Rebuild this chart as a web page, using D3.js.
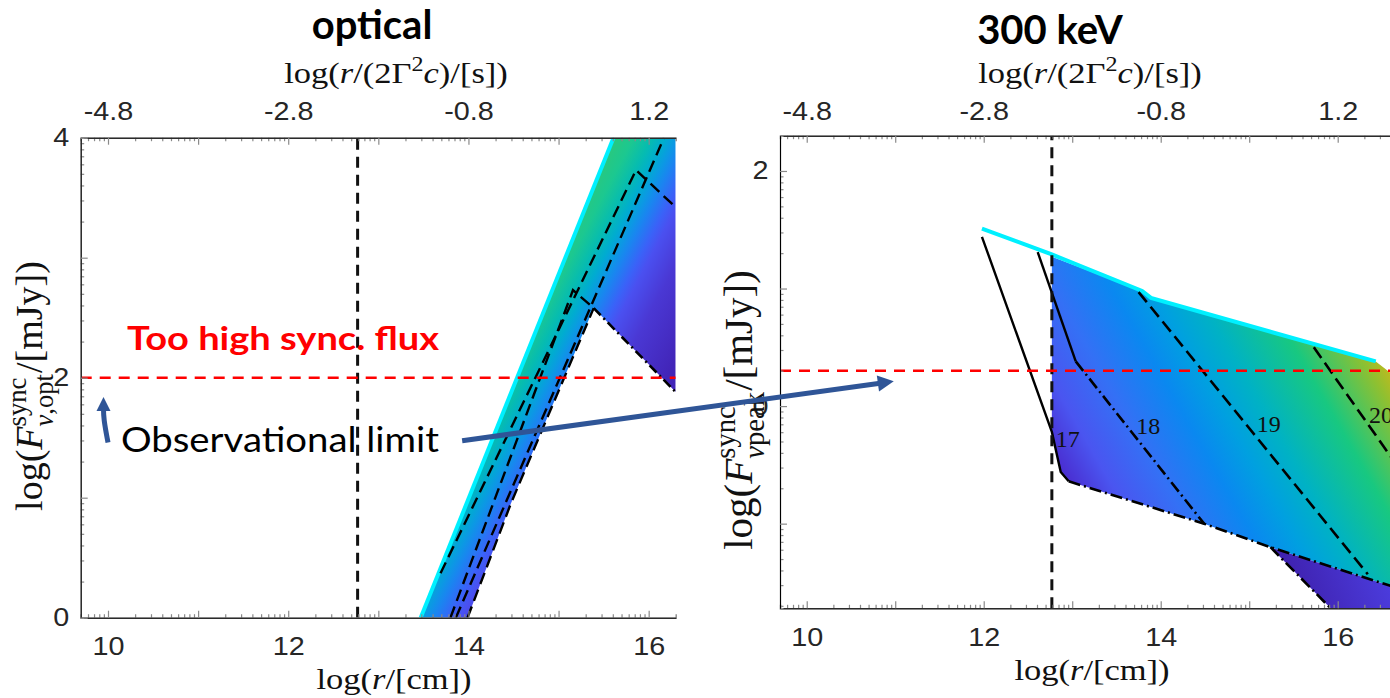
<!DOCTYPE html>
<html>
<head>
<meta charset="utf-8">
<script src="https://cdn.jsdelivr.net/npm/d3@7"></script>
<style>
  body { margin: 0; background: #fff; }
  svg { display: block; }
</style>
</head>
<body>
<svg id="fig" width="1390" height="698"></svg>
<script>
/* global d3 */

// ---- data (log r [cm], log F [mJy]) ----
const xTickVals = [10, 12, 14, 16]
const xTopLabels = ['-4.8', '-2.8', '-0.8', '1.2']
const optYTicks = [0, 2, 4]
const pkYTicks = [0, 2]

const rDashed = 12.77 // vertical dashed line, both panels
const optLimit = 2.0
const pkLimit = 0.3

// optical panel
const optRegion = [[13.47, 0], [15.61, 4], [16.3, 4], [16.3, 1.88], [15.39, 2.58], [14.47, 0.95], [13.99, 0]]
const optCyan = [[13.47, 0], [15.61, 4]]
const optDashed = [
  [[13.69, 0.37], [15.86, 3.73], [16.3, 3.42]],
  [[13.8, 0], [15.16, 2.73], [15.39, 2.58]],
  [[13.86, 0], [16.17, 4]],
  [[13.99, 0], [14.47, 0.95], [15.39, 2.58]]
]
const optDashDot = [[15.39, 2.58], [16.3, 1.88]]

// 300 keV panel
const pkCyan = [[11.98, 1.51], [12.77, 1.29], [13.79, 0.98], [13.89, 0.92], [16.43, 0.38]]
const pkRegion = [[12.77, 1.27], [13.79, 0.98], [13.89, 0.92], [16.43, 0.38], [16.6, 0.28],
  [16.6, -1.53], [15.24, -1.2], [14.49, -1.0], [12.96, -0.64], [12.87, -0.56], [12.77, -0.22]]
const pkLower = [[15.24, -1.2], [15.92, -1.72], [16.8, -1.72], [16.8, -1.6], [16.6, -1.53]]
const pkSolid = [
  [[11.98, 1.44], [12.77, -0.22], [12.87, -0.56], [12.96, -0.64]],
  [[12.61, 1.31], [13.04, 0.38]]
]
const pkDashDot = [
  [[13.04, 0.38], [14.49, -1.0]],
  [[12.96, -0.64], [14.49, -1.0], [15.24, -1.2], [16.6, -1.53]],
  [[15.24, -1.2], [15.92, -1.72]]
]
const pkDashed = [
  [[13.75, 0.97], [16.34, -1.43]],
  [[15.73, 0.5], [16.6, -0.43]]
]
const contourLabels = ['17', '18', '19', '20']
const contourAt = [[12.95, -0.28], [13.86, -0.17], [15.22, -0.145], [16.49, -0.07]]

// annotation arrows, in optical-panel coordinates
const obsArrow = [[13.93, 1.475], [18.72, 1.97]]
const smallArrow = [[10.0, 1.46], [9.95, 1.66], [9.95, 1.84]]

// ---- styles ----
const serif = '"Liberation Serif", "DejaVu Serif", serif'
const sans = '"Liberation Sans", Arial, sans-serif'
const office = 'Lato, "Open Sans", sans-serif'
const axisColor = '#8a8a8a'
const arrowBlue = '#2f5597'
const stretch = 1.15 // the figure is wider than tall in the source

const optStops = [[0, '#2cc87a'], [0.12, '#1cc890'], [0.22, '#06bcb0'], [0.3, '#00acd0'],
  [0.36, '#0c98e4'], [0.41, '#1a85f0'], [0.5, '#3a62f8'], [0.56, '#4a50f0'], [0.72, '#4a38d4'], [1, '#4225b8']]
const pkStops = [[0, '#4525c0'], [0.06, '#4a32d4'], [0.15, '#4a55f0'], [0.28, '#3470f5'],
  [0.42, '#0a88f0'], [0.52, '#00a0e0'], [0.62, '#00b2c4'], [0.78, '#18c880'],
  [0.93, '#90c030'], [1, '#d0b818']]

const svg = d3.select('#fig')
const defs = svg.append('defs')

function gradient (id, stops, p0, p1) {
  const g = defs.append('linearGradient').attr('id', id)
    .attr('gradientUnits', 'userSpaceOnUse')
    .attr('x1', p0[0]).attr('y1', p0[1]).attr('x2', p1[0]).attr('y2', p1[1])
  g.selectAll('stop').data(stops).enter().append('stop')
    .attr('offset', d => d[0]).attr('stop-color', d => d[1])
}

function setupPanel (id, xDom, xRange, yDom, yRange) {
  const x = d3.scaleLinear().domain(xDom).range(xRange)
  const y = d3.scaleLinear().domain(yDom).range(yRange)
  defs.append('clipPath').attr('id', id + '-clip').append('rect')
    .attr('x', xRange[0]).attr('y', yRange[1])
    .attr('width', xRange[1] - xRange[0]).attr('height', yRange[0] - yRange[1])
  const g = svg.append('g')
  const plot = g.append('g').attr('clip-path', `url(#${id}-clip)`)
  const line = d3.line().x(d => x(d[0])).y(d => y(d[1]))
  return { x, y, g, plot, line }
}

// log-style minor ticks repeating every unit
function minorTicks (dom) {
  const out = []
  for (let n = Math.floor(dom[0]); n <= Math.ceil(dom[1]); n++) {
    for (let k = 2; k <= 9; k++) {
      const v = n + Math.log10(k)
      if (v > dom[0] && v < dom[1]) out.push(v)
    }
  }
  return out
}
function unitTicks (dom) {
  return d3.range(Math.ceil(dom[0]), Math.floor(dom[1]) + 1)
}

function styleAxis (sel) {
  sel.select('.domain').attr('stroke', axisColor).attr('stroke-width', 1.4)
  sel.selectAll('.tick line').attr('stroke', axisColor).attr('stroke-width', 1.2)
  sel.selectAll('.tick text').attr('fill', '#262626')
    .attr('font-family', sans).attr('font-size', 25)
    .attr('transform', `scale(${stretch},1)`)
}

function drawAxes (p, yTicks, topPad) {
  const xd = p.x.domain()
  const yd = p.y.domain()
  const [x0] = p.x.range()
  const [yb, yt] = p.y.range()
  const fmtX = d => xTickVals.includes(d) ? String(d) : ''
  const fmtTop = d => xTickVals.includes(d) ? xTopLabels[xTickVals.indexOf(d)] : ''
  const fmtY = d => yTicks.includes(d) ? String(d) : ''

  const bottom = p.g.append('g').attr('transform', `translate(0,${yb})`)
  bottom.append('g').call(d3.axisBottom(p.x).tickValues(minorTicks(xd)).tickSize(-3.5).tickFormat(''))
  bottom.append('g').call(d3.axisBottom(p.x).tickValues(unitTicks(xd)).tickSizeInner(-7).tickSizeOuter(0)
    .tickPadding(20).tickFormat(fmtX))
  styleAxis(bottom)

  const top = p.g.append('g').attr('transform', `translate(0,${yt})`)
  top.append('g').call(d3.axisTop(p.x).tickValues(minorTicks(xd)).tickSize(-3.5).tickFormat(''))
  top.append('g').call(d3.axisTop(p.x).tickValues(unitTicks(xd)).tickSizeInner(-7).tickSizeOuter(0)
    .tickPadding(topPad).tickFormat(fmtTop))
  styleAxis(top)

  const left = p.g.append('g').attr('transform', `translate(${x0},0)`)
  left.append('g').call(d3.axisLeft(p.y).tickValues(minorTicks(yd)).tickSize(-3.5).tickFormat(''))
  left.append('g').call(d3.axisLeft(p.y).tickValues(unitTicks(yd)).tickSizeInner(-7).tickSizeOuter(0)
    .tickPadding(10).tickFormat(fmtY))
  styleAxis(left)
}

function drawLines (p, rows, color, width, dash) {
  p.plot.selectAll(null).data(rows).enter().append('path')
    .attr('d', p.line).attr('fill', 'none')
    .attr('stroke', color).attr('stroke-width', width)
    .attr('stroke-dasharray', dash)
}

function hLine (p, v, color, dash) {
  p.plot.append('line')
    .attr('x1', p.x.range()[0]).attr('x2', p.x.range()[1])
    .attr('y1', p.y(v)).attr('y2', p.y(v))
    .attr('stroke', color).attr('stroke-width', 2.6).attr('stroke-dasharray', dash)
}
function vLine (p, v) {
  p.plot.append('line')
    .attr('x1', p.x(v)).attr('x2', p.x(v))
    .attr('y1', p.y.range()[0]).attr('y2', p.y.range()[1])
    .attr('stroke', '#111').attr('stroke-width', 3).attr('stroke-dasharray', '11,7')
}

// LaTeX-ish label from parts, centred at (cx, cy-baseline)
function mathLabel (parts, size, cx, cy) {
  const g = svg.append('g').attr('transform', `translate(${cx},${cy}) scale(${stretch},1)`)
  const t = g.append('text').attr('text-anchor', 'middle')
    .attr('font-family', serif).attr('font-size', size).attr('fill', '#111')
  let shift = 0
  parts.forEach(pt => {
    const want = pt.up ? -size * 0.4 : 0
    const s = t.append('tspan').text(pt.t).attr('dy', want - shift)
    shift = want
    if (pt.i) s.attr('font-style', 'italic')
    if (pt.up) s.attr('font-size', size * 0.7)
  })
  return t
}

// stacked sup/sub label for the flux axes, rotated
function fluxLabel (cx, cy, subParts, size) {
  const g = svg.append('g')
  const body = g.append('g')
  let x = 0
  const put = (txt, opts) => {
    const t = body.append('text').attr('x', x).attr('y', opts.y || 0)
      .attr('font-family', serif).attr('font-size', opts.size || size).attr('fill', '#111')
      .attr('font-style', opts.i ? 'italic' : 'normal').text(txt)
    return t.node().getComputedTextLength()
  }
  x += put('log(', {})
  x += put('F', { i: true })
  const xs = x
  const wSup = put('sync', { size: size * 0.7, y: -size * 0.42 })
  let wSub = 0
  subParts.forEach(sp => {
    x = xs + wSub
    wSub += put(sp.t, { size: size * 0.7, y: size * 0.3, i: sp.i })
  })
  x = xs + Math.max(wSup, wSub) + 1
  x += put('/[mJy])', {})
  body.attr('transform', `translate(${-x / 2},0)`)
  g.attr('transform', `translate(${cx},${cy}) rotate(-90)`)
}

function arrowHead (parent, from, to, len, half, color) {
  const dx = to[0] - from[0]
  const dy = to[1] - from[1]
  const L = Math.hypot(dx, dy)
  const ux = dx / L
  const uy = dy / L
  const bx = to[0] - ux * len
  const by = to[1] - uy * len
  parent.append('polygon')
    .attr('points', [[to[0], to[1]], [bx - uy * half, by + ux * half], [bx + uy * half, by - ux * half]].join(' '))
    .attr('fill', color)
}

// ---- optical panel ----
const opt = setupPanel('opt', [9.697, 16.3], [80.7, 675.7], [0, 4], [617.7, 137.7])
gradient('opt-grad', optStops, [opt.x(15.58), opt.y(3.98)], [opt.x(17.15), opt.y(3.36)])

opt.plot.append('path').datum(optRegion)
  .attr('d', d => opt.line(d) + 'Z').attr('fill', 'url(#opt-grad)')
drawLines(opt, [optCyan], '#00f0ff', 4, null)
drawLines(opt, optDashed, '#000', 2.4, '12,6')
drawLines(opt, [optDashDot], '#000', 2.6, '10,4,2,4')
vLine(opt, rDashed)
hLine(opt, optLimit, '#ff0000', '11,8')
drawAxes(opt, optYTicks, 18)

// ---- 300 keV panel ----
const pk = setupPanel('pk', [9.698, 16.8], [780, 1408.5], [-1.72, 2.3], [608.3, 135.7])
gradient('pk-grad', pkStops, [pk.x(12.64), pk.y(-0.536)], [pk.x(16.175), pk.y(0.984)])
gradient('pk-low', [[0, '#3f22b0'], [1, '#4c3ee0']], [pk.x(15.6), pk.y(-1.7)], [pk.x(16.6), pk.y(-1.4)])

pk.plot.append('path').datum(pkRegion)
  .attr('d', d => pk.line(d) + 'Z').attr('fill', 'url(#pk-grad)')
pk.plot.append('path').datum(pkLower)
  .attr('d', d => pk.line(d) + 'Z').attr('fill', 'url(#pk-low)')
drawLines(pk, [pkCyan], '#00f0ff', 4, null)
drawLines(pk, pkSolid, '#000', 2.4, null)
drawLines(pk, pkDashDot, '#000', 2.6, '12,4,2,4')
drawLines(pk, pkDashed, '#000', 2.6, '13,6')
vLine(pk, rDashed)
hLine(pk, pkLimit, '#ff0000', '11,8')
pk.plot.selectAll('.clabel').data(contourLabels).enter().append('text')
  .attr('class', 'clabel')
  .attr('x', (d, i) => pk.x(contourAt[i][0])).attr('y', (d, i) => pk.y(contourAt[i][1]))
  .attr('dy', '0.35em').attr('text-anchor', 'middle')
  .attr('font-family', serif).attr('font-size', 24).attr('fill', '#111')
  .text(d => d)
drawAxes(pk, pkYTicks, 16)

// ---- axis titles ----
const rcm = [{ t: 'log(' }, { t: 'r', i: true }, { t: '/[cm])' }]
const rsec = [{ t: 'log(' }, { t: 'r', i: true }, { t: '/(2Γ' }, { t: '2', up: true },
  { t: 'c', i: true }, { t: ')/[s])' }]
mathLabel(rcm, 30, 394, 689)
mathLabel(rcm, 30, 1092, 680)
mathLabel(rsec, 30, 396, 83)
mathLabel(rsec, 30, 1090, 83)
fluxLabel(42, 386, [{ t: 'ν', i: true }, { t: ',opt' }], 38)
fluxLabel(752, 410, [{ t: 'ν', i: true }, { t: 'peak' }], 41)

// ---- titles and annotations ----
svg.append('text').attr('x', 372).attr('y', 39).attr('text-anchor', 'middle')
  .attr('font-family', office).attr('font-weight', 700).attr('font-size', 40).attr('fill', '#000')
  .text('optical')
svg.append('text').attr('x', 1050).attr('y', 44).attr('text-anchor', 'middle')
  .attr('font-family', office).attr('font-weight', 700).attr('font-size', 40).attr('fill', '#000')
  .text('300 keV')
svg.append('text').attr('x', 127).attr('y', 350)
  .attr('font-family', office).attr('font-weight', 700).attr('font-size', 33).attr('fill', '#ff0000')
  .attr('textLength', 312).attr('lengthAdjust', 'spacingAndGlyphs')
  .text('Too high sync. flux')
svg.append('text').attr('x', 121).attr('y', 452)
  .attr('font-family', office).attr('font-size', 35).attr('fill', '#000')
  .attr('textLength', 318).attr('lengthAdjust', 'spacingAndGlyphs')
  .text('Observational limit')

const ann = svg.append('g')
const aFrom = [opt.x(obsArrow[0][0]), opt.y(obsArrow[0][1])]
const aTo = [opt.x(obsArrow[1][0]), opt.y(obsArrow[1][1])]
const ux = (aTo[0] - aFrom[0]) / Math.hypot(aTo[0] - aFrom[0], aTo[1] - aFrom[1])
const uy = (aTo[1] - aFrom[1]) / Math.hypot(aTo[0] - aFrom[0], aTo[1] - aFrom[1])
ann.append('line').attr('x1', aFrom[0]).attr('y1', aFrom[1])
  .attr('x2', aTo[0] - ux * 12).attr('y2', aTo[1] - uy * 12)
  .attr('stroke', arrowBlue).attr('stroke-width', 5)
arrowHead(ann, aFrom, aTo, 16, 8, arrowBlue)

const sPts = smallArrow.map(d => [opt.x(d[0]), opt.y(d[1])])
ann.append('path')
  .attr('d', d3.line().curve(d3.curveBasis)(sPts.slice(0, -1).concat([[sPts[2][0], sPts[2][1] + 10]])))
  .attr('fill', 'none').attr('stroke', arrowBlue).attr('stroke-width', 5)
arrowHead(ann, sPts[1], sPts[2], 14, 7, arrowBlue)
</script>
</body>
</html>
